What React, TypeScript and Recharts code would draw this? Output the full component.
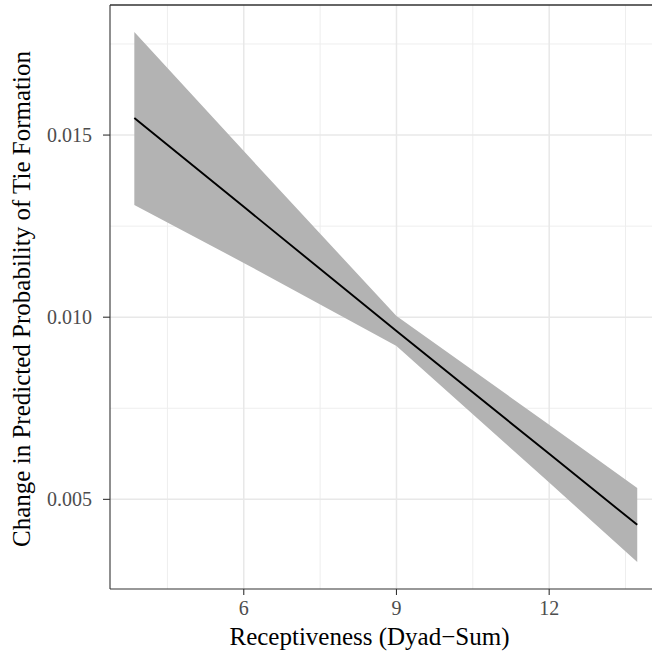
import { ComposedChart, Area, Line, XAxis, YAxis, CartesianGrid, ReferenceLine } from 'recharts';

// values
const receptiveness = [3.85, 6, 9, 12, 13.73];
const fitted = [0.01547, 0.01303, 0.00962, 0.00625, 0.0043];
const lower = [0.01308, 0.01149, 0.00921, 0.00546, 0.00328];
const upper = [0.01783, 0.01456, 0.01003, 0.00705, 0.00531];

const xTicks = [6, 9, 12];
const xMinor = [4.5, 7.5, 10.5, 13.5];
const yTicks = [0.005, 0.01, 0.015];
const yMinor = [0.0075, 0.0125, 0.0175];

const xDomain: [number, number] = [3.372, 14.02];
const yDomain: [number, number] = [0.002539, 0.01857];

const data = receptiveness.map((x, i) => ({
  x,
  fit: fitted[i],
  band: [lower[i], upper[i]],
}));

const font = '"Liberation Serif", "Times New Roman", serif';

function YTitle(props: any) {
  const { viewBox } = props;
  const cx = 30;
  const cy = viewBox.y + viewBox.height / 2 + 2;
  return (
    <text
      x={cx}
      y={cy}
      transform={`rotate(-90, ${cx}, ${cy})`}
      textAnchor="middle"
      fontFamily={font}
      fontSize={25}
      fill="#000"
    >
      Change in Predicted Probability of Tie Formation
    </text>
  );
}

function XTitle(props: any) {
  const { viewBox } = props;
  return (
    <text
      x={369.5}
      y={viewBox.y + viewBox.height - 10}
      textAnchor="middle"
      fontFamily={font}
      fontSize={25}
      fill="#000"
    >
      Receptiveness (Dyad−Sum)
    </text>
  );
}

export default function App() {
  return (
    <div style={{ position: 'absolute', left: 0, top: 0, width: 652, height: 655, background: '#fff' }}>
      <ComposedChart width={652} height={655} data={data} margin={{ top: 5, right: 0, bottom: 0, left: 0 }}>
        <CartesianGrid
          stroke="#eeeeee"
          strokeWidth={1}
          verticalValues={xMinor}
          horizontalValues={yMinor}
        />
        <CartesianGrid
          stroke="#e8e8e8"
          strokeWidth={1.5}
          verticalValues={xTicks}
          horizontalValues={yTicks}
        />
        <XAxis
          dataKey="x"
          type="number"
          domain={xDomain}
          allowDataOverflow
          ticks={xTicks}
          height={66}
          tickSize={6}
          tickMargin={6}
          axisLine={{ stroke: '#333', strokeWidth: 1.1 }}
          tickLine={{ stroke: '#333', strokeWidth: 1.1 }}
          tick={{ fill: '#4d4d4d', fontSize: 20, fontFamily: font }}
          label={{ content: XTitle }}
        />
        <YAxis
          type="number"
          domain={yDomain}
          allowDataOverflow
          ticks={yTicks}
          width={110}
          tickSize={7}
          tickMargin={11}
          tickFormatter={(v: number) => v.toFixed(3)}
          axisLine={{ stroke: '#333', strokeWidth: 1.1 }}
          tickLine={{ stroke: '#333', strokeWidth: 1.1 }}
          tick={{ fill: '#4d4d4d', fontSize: 20, fontFamily: font }}
          label={{ content: YTitle }}
        />
        <Area
          type="linear"
          dataKey="band"
          fill="#b3b3b3"
          fillOpacity={1}
          stroke="none"
          isAnimationActive={false}
        />
        <Line
          type="linear"
          dataKey="fit"
          stroke="#000"
          strokeWidth={1.9}
          dot={false}
          activeDot={false}
          isAnimationActive={false}
        />
        <ReferenceLine y={yDomain[1]} stroke="#333" strokeWidth={1.3} />
      </ComposedChart>
    </div>
  );
}
